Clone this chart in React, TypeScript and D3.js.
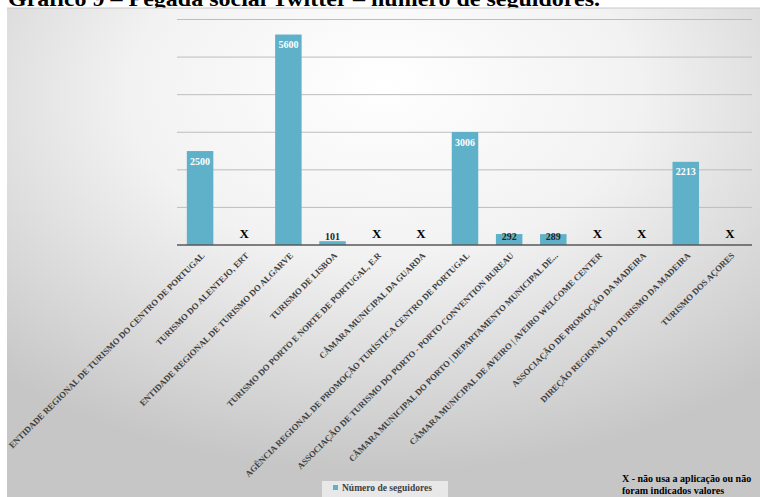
import React from "react";
import * as d3 from "d3";

const categories = [
  "ENTIDADE REGIONAL DE TURISMO DO CENTRO DE PORTUGAL",
  "TURISMO DO ALENTEJO, ERT",
  "ENTIDADE REGIONAL DE TURISMO DO ALGARVE",
  "TURISMO DE LISBOA",
  "TURISMO DO PORTO E NORTE DE PORTUGAL, E.R",
  "CÂMARA MUNICIPAL DA GUARDA",
  "AGÊNCIA REGIONAL DE PROMOÇÃO TURÍSTICA CENTRO DE PORTUGAL",
  "ASSOCIAÇÃO DE TURISMO DO PORTO - PORTO CONVENTION BUREAU",
  "CÂMARA MUNICIPAL DO PORTO | DEPARTAMENTO MUNICIPAL DE...",
  "CÂMARA MUNICIPAL DE AVEIRO | AVEIRO WELCOME CENTER",
  "ASSOCIAÇÃO DE PROMOÇÃO DA MADEIRA",
  "DIREÇÃO REGIONAL DO TURISMO DA MADEIRA",
  "TURISMO DOS AÇORES",
];
// null = "X" (no data)
const followers: (number | null)[] = [2500, null, 5600, 101, null, null, 3006, 292, 289, null, null, 2213, null];
const yTicks = [0, 1000, 2000, 3000, 4000, 5000, 6000];

const title = "Gráfico 9 – Pegada social Twitter – número de seguidores.";
const seriesName = "Número de seguidores";
const noteLines = ["X - não usa a aplicação ou não", "foram indicados valores"];

const W = 760;
const H = 497;
const FONT = "'Liberation Serif', 'DejaVu Serif', serif";

export default function App() {
  const x = d3
    .scaleBand<string>()
    .domain(categories)
    .range([178, 752])
    .paddingInner(0.4)
    .paddingOuter(0.2);
  const y = d3.scaleLinear().domain([0, 6000]).range([245, 19.5]);
  const base = y(0);

  return (
    <svg
      width={W}
      height={H}
      style={{ position: "absolute", left: 0, top: 0 }}
      xmlns="http://www.w3.org/2000/svg"
    >
      <defs>
        <radialGradient id="bg" cx="0.5" cy="0.2" r="0.75" fx="0.5" fy="0.15">
          <stop offset="0" stopColor="#ffffff" />
          <stop offset="0.45" stopColor="#f2f2f2" />
          <stop offset="1" stopColor="#c6c6c6" />
        </radialGradient>
      </defs>
      <rect x={0} y={0} width={W} height={H} fill="#ffffff" />
      <text
        x={8}
        y={6}
        fontFamily={FONT}
        fontWeight="bold"
        fontSize={22}
        textLength={592}
        lengthAdjust="spacingAndGlyphs"
        fill="#000"
      >
        {title}
      </text>
      <rect x={7} y={8} width={W - 7} height={H - 8} fill="url(#bg)" />
      <line x1={7} x2={W} y1={8} y2={8} stroke="#c8c8c8" strokeWidth={1} />

      {yTicks.slice(1).map((t) => (
        <line
          key={t}
          x1={177}
          x2={752}
          y1={y(t)}
          y2={y(t)}
          stroke="#bdbdbd"
          strokeWidth={1}
        />
      ))}

      {categories.map((c, i) => {
        const v = followers[i];
        const cx = x(c)! + x.bandwidth() / 2;
        if (v === null) {
          return (
            <text
              key={c}
              x={cx}
              y={233}
              textAnchor="middle"
              dominantBaseline="central"
              fontFamily={FONT}
              fontWeight="bold"
              fontSize={13}
              fill="#000"
            >
              X
            </text>
          );
        }
        const top = y(v);
        const h = base - top;
        const inside = h > 20;
        const ly = inside ? top + 10 : 236;
        return (
          <g key={c}>
            <rect x={x(c)} y={top} width={x.bandwidth()} height={h} fill="#5eb1c9" />
            <text
              x={cx}
              y={ly}
              textAnchor="middle"
              dominantBaseline="central"
              fontFamily={FONT}
              fontWeight="bold"
              fontSize={10}
              fill={inside ? "#ffffff" : "#262626"}
            >
              {v}
            </text>
          </g>
        );
      })}

      <line x1={177} x2={752} y1={base} y2={base} stroke="#595959" strokeWidth={1.3} />

      {categories.map((c) => {
        const cx = x(c)! + x.bandwidth() / 2;
        return (
          <text
            key={"l" + c}
            transform={`translate(${cx + 3},${base + 9}) rotate(-45)`}
            textAnchor="end"
            dominantBaseline="central"
            fontFamily={FONT}
            fontWeight="bold"
            fontSize={8.7}
            fill="#404040"
          >
            {c}
          </text>
        );
      })}

      <rect x={322} y={481} width={126} height={16} fill="#e8e8e8" />
      <rect x={333} y={485} width={5} height={5} fill="#5eb1c9" />
      <text
        x={342}
        y={488}
        dominantBaseline="central"
        fontFamily={FONT}
        fontWeight="bold"
        fontSize={9.5}
        fill="#404040"
      >
        {seriesName}
      </text>

      {noteLines.map((l, i) => (
        <text
          key={l}
          x={622}
          y={478 + i * 12}
          dominantBaseline="central"
          fontFamily={FONT}
          fontWeight="bold"
          fontSize={10}
          fill="#000"
        >
          {l}
        </text>
      ))}
    </svg>
  );
}
